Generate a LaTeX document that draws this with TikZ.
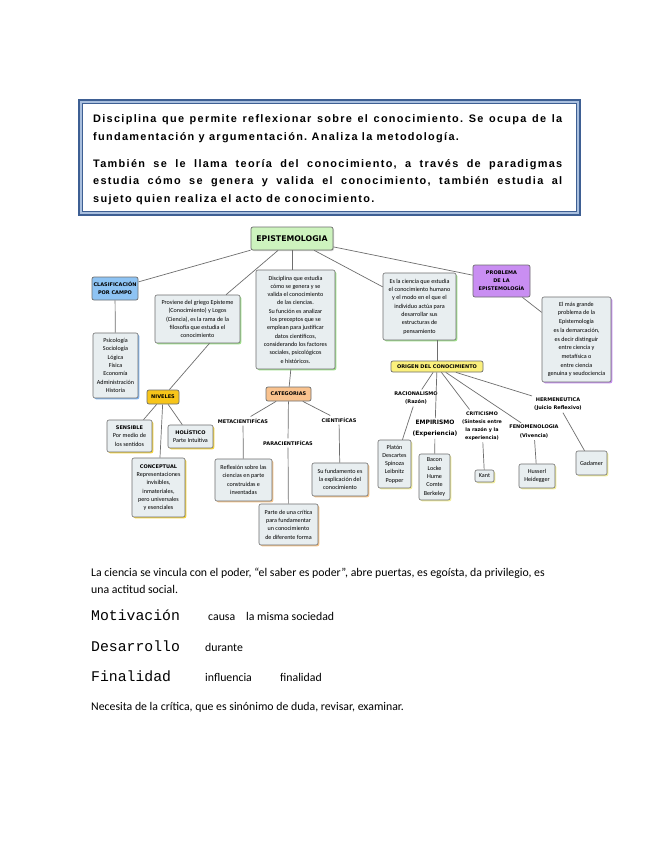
\documentclass[tikz,border=0pt]{standalone}
\usepackage{fontspec}
\setmainfont{Carlito}
\newfontfamily\tagfont{DejaVu Sans}
\newfontfamily\headfont{Liberation Sans}[LetterSpace=12]
\newfontfamily\typefont{Liberation Mono}
\usepackage{xcolor}
\usepackage{tikz}
\usetikzlibrary{shapes.geometric, arrows, positioning, shadows}

\definecolor{framedark}{HTML}{3E5F93}
\definecolor{framelight}{HTML}{A9BFDE}
\definecolor{boxfill}{HTML}{E8EEF0}
\definecolor{edge}{HTML}{6E6E6E}
\definecolor{greentop}{HTML}{CDF3BE}
\definecolor{greenshade}{HTML}{9EE08A}
\definecolor{bluetop}{HTML}{8EC3F3}
\definecolor{blueshade}{HTML}{7FB3EE}
\definecolor{purpletop}{HTML}{C98EF2}
\definecolor{purpleshade}{HTML}{C58CF0}
\definecolor{goldtop}{HTML}{F7C51A}
\definecolor{goldshade}{HTML}{F5D33A}
\definecolor{orangetop}{HTML}{F9C28E}
\definecolor{orangeshade}{HTML}{F6C48A}
\definecolor{lemontop}{HTML}{FBF07C}
\definecolor{lemonshade}{HTML}{F3EE9A}

\begin{document}
\begin{tikzpicture}[
        x=1pt, y=-1pt,
        topic/.style={rectangle, draw=edge, rounded corners=2pt, line width=0.7pt, font=\tagfont\bfseries\fontsize{5}{8}\selectfont, align=center, inner sep=1pt},
        infobox/.style={rectangle, draw=edge, fill=boxfill, rounded corners=2pt, line width=0.6pt, font=\fontsize{6.1}{8.3}\selectfont, align=center, inner sep=0.5pt},
        shade/.style={drop shadow={shadow xshift=1.3pt, shadow yshift=-1.3pt, opacity=1, fill=#1}},
        tag/.style={font=\tagfont\bfseries\fontsize{5}{8.4}\selectfont, align=center, inner sep=2pt},
        link/.style={draw=edge, line width=0.7pt},
        plain/.style={anchor=base west, inner sep=0pt, font=\fontsize{11.8}{17}\selectfont, align=left}
    ]
    \useasboundingbox[fill=white] (0,0) rectangle (655,848);

    % framed heading
    \draw[framedark, line width=2pt] (79,100) rectangle (580,215);
    \draw[framelight, line width=1.8pt] (81,102) rectangle (578,213);
    \draw[framedark, line width=0.9pt, fill=white] (82.8,103.8) rectangle (576.2,211.2);
    \node (intro) [anchor=north west, text width=469pt, align=justify, inner sep=0pt,
        font=\headfont\bfseries\fontsize{10.9}{17.8}\selectfont] at (93,114.5) {%
        \hyphenpenalty=10000 \frenchspacing
        Disciplina que permite reflexionar sobre el conocimiento. Se ocupa de la\linebreak
        fundamentación y argumentación. Analiza la metodología.\par\vspace{9pt}
        También se le llama teoría del conocimiento, a través de paradigmas\linebreak
        estudia cómo se genera y valida el conocimiento, también estudia al\linebreak
        sujeto quien realiza el acto de conocimiento.};

    % concept map
    \node (epist) [topic, fill=greentop, minimum width=82pt, minimum height=23pt,
        font=\tagfont\bfseries\fontsize{7.8}{9}\selectfont,
        drop shadow={shadow xshift=1pt, shadow yshift=-1pt, opacity=0.35, fill=black!50}] at (292,238.5) {EPISTEMOLOGIA};

    \node (clasif) [topic, fill=bluetop, minimum width=46pt, minimum height=23pt] at (115,288.5) {CLASIFICACIÓN\\POR CAMPO};
    \node (campos) [infobox, shade=blueshade, minimum width=45pt, minimum height=65pt] at (115.5,365.5)
        {Psicología\\Sociología\\Lógica\\Física\\Economía\\Administración\\Historia};

    \node (proviene) [infobox, shade=greenshade, minimum width=85pt, minimum height=48pt] at (197.5,319)
        {Proviene del griego Episteme\\(Conocimiento) y Logos\\(Ciencia), es la rama de la\\filosofía que estudia el\\conocimiento};
    \node (disciplina) [infobox, shade=greenshade, minimum width=79pt, minimum height=99pt] at (295.5,319.5)
        {Disciplina que estudia\\cómo se genera y se\\valida el conocimiento\\de las ciencias.\\Su función es analizar\\los preceptos que se\\emplean para justificar\\datos científicos,\\considerando los factores\\sociales, psicológicos\\e históricos.};
    \node (ciencia) [infobox, shade=greenshade, minimum width=73pt, minimum height=67pt] at (419.5,306.5)
        {Es la ciencia que estudia\\el conocimiento humano\\y el modo en el que el\\individuo actúa para\\desarrollar sus\\estructuras de\\pensamiento};

    \node (problema) [topic, fill=purpletop, minimum width=57pt, minimum height=32pt] at (501.5,281) {PROBLEMA\\DE LA\\EPISTEMOLOGÍA};
    \node (demarcacion) [infobox, shade=purpleshade, minimum width=69pt, minimum height=85pt,
        font=\fontsize{6.1}{8.7}\selectfont] at (576.5,339.5)
        {El más grande\\problema de la\\Epistemología\\es la demarcación,\\es decir distinguir\\entre ciencia y\\metafísica o\\entre ciencia\\genuina y seudociencia};

    \node (niveles) [topic, fill=goldtop, minimum width=32pt, minimum height=14pt] at (163,397) {NIVELES};
    \node (sensible) [infobox, shade=goldshade, minimum width=45pt, minimum height=32pt] at (129.5,436)
        {{\tagfont\bfseries\fontsize{5}{8.3}\selectfont SENSIBLE}\\Por medio de\\los sentidos};
    \node (holistico) [infobox, shade=goldshade, minimum width=45pt, minimum height=23pt] at (190.5,436.5)
        {{\tagfont\bfseries\fontsize{5}{8.3}\selectfont HOLÍSTICO}\\Parte Intuitiva};
    \node (conceptual) [infobox, shade=goldshade, minimum width=53pt, minimum height=59pt] at (158.5,487.5)
        {{\tagfont\bfseries\fontsize{5}{8.3}\selectfont CONCEPTUAL}\\Representaciones\\invisibles,\\inmateriales,\\pero universales\\y esenciales};

    \node (categorias) [topic, fill=orangetop, minimum width=45pt, minimum height=14pt] at (288.5,394) {CATEGORIAS};
    \node (meta) [tag] at (243,421) {METACIENTIFÍCAS};
    \node (para) [tag] at (288,443) {PARACIENTIFÍCAS};
    \node (cient) [tag] at (339,420) {CIENTIFÍCAS};
    \node (reflexion) [infobox, shade=orangeshade, minimum width=57pt, minimum height=42pt] at (243.5,480)
        {Reflexión sobre las\\ciencias en parte\\construidas e\\inventadas};
    \node (critica) [infobox, shade=orangeshade, minimum width=59pt, minimum height=41pt] at (288.5,524.5)
        {Parte de una crítica\\para fundamentar\\un conocimiento\\de diferente forma};
    \node (fundamento) [infobox, shade=orangeshade, minimum width=56pt, minimum height=33pt] at (340,479.5)
        {Su fundamento es\\la explicación del\\conocimiento};

    \node (origen) [topic, fill=lemontop, minimum width=92pt, minimum height=11pt] at (437,366.5) {ORIGEN DEL CONOCIMIENTO};
    \node (racional) [tag] at (416,398) {RACIONALISMO\\(Razón)};
    \node (empirismo) [tag, font=\tagfont\bfseries\fontsize{6}{10.5}\selectfont] at (435,428.5) {EMPIRISMO\\(Experiencia)};
    \node (criticismo) [tag, font=\tagfont\bfseries\fontsize{4.8}{8}\selectfont] at (482,426) {CRITICISMO\\(Síntesis entre\\la razón y la\\experiencia)};
    \node (fenomeno) [tag] at (534,431.5) {FENOMENOLOGIA\\(Vivencia)};
    \node (hermeneutica) [tag] at (558,404) {HERMENEUTICA\\(Juicio Reflexivo)};
    \node (platon) [infobox, shade=lemonshade, minimum width=33pt, minimum height=48pt] at (394.5,464)
        {Platón\\Descartes\\Spinoza\\Leibnitz\\Popper};
    \node (bacon) [infobox, shade=lemonshade, minimum width=31pt, minimum height=46pt] at (434.5,477)
        {Bacon\\Locke\\Hume\\Comte\\Berkeley};
    \node (kant) [infobox, shade=lemonshade, minimum width=19pt, minimum height=12pt] at (484.5,476) {Kant};
    \node (husserl) [infobox, shade=lemonshade, minimum width=36pt, minimum height=24pt] at (537,476) {Husserl\\Heidegger};
    \node (gadamer) [infobox, shade=lemonshade, minimum width=31pt, minimum height=24pt] at (591.5,463) {Gadamer};

    \draw [link] (epist) -- (clasif);
    \draw [link] (epist) -- (proviene);
    \draw [link] (epist.south) -- (epist.south |- disciplina.north);
    \draw [link] (epist) -- (ciencia);
    \draw [link] (epist) -- (problema);
    \draw [link] (problema) -- (demarcacion);

    \draw [link] (clasif) -- (campos);
    \draw [link] ([xshift=12pt]proviene.south) -- (niveles);
    \draw [link] (niveles) -- (sensible);
    \draw [link] (niveles) -- (conceptual);
    \draw [link] (niveles) -- (holistico);

    \draw [link] (disciplina) -- (categorias);
    \draw [link] (categorias) -- (meta);
    \draw [link] (categorias) -- (para);
    \draw [link] (categorias) -- (cient);
    \draw [link] (meta) -- (reflexion);
    \draw [link] (para) -- (critica);
    \draw [link] (cient) -- (fundamento);

    \draw [link] (ciencia.south -| origen.north) -- (origen);
    \draw [link] (origen) -- (racional);
    \draw [link] (origen) -- (empirismo);
    \draw [link] (origen) -- (criticismo);
    \draw [link] (origen) -- (fenomeno);
    \draw [link] (origen) -- (hermeneutica);
    \draw [link] (racional) -- (platon);
    \draw [link] (empirismo) -- (bacon);
    \draw [link] (criticismo) -- (kant);
    \draw [link] (fenomeno) -- (husserl);
    \draw [link] (hermeneutica) -- (gadamer);

    % notes below the map
    \node (saber) [plain] at (91,593) {La ciencia se vincula con el poder, “el saber es poder”, abre puertas, es egoísta, da privilegio, es\\una actitud social.};
    \node (motiv) [plain, font=\typefont\fontsize{14.8}{16}\selectfont] at (91,620) {Motivación};
    \node (causa) [plain] at (208,620) {causa};
    \node (sociedad) [plain] at (246,620) {la misma sociedad};
    \node (desarrollo) [plain, font=\typefont\fontsize{14.8}{16}\selectfont] at (91,651) {Desarrollo};
    \node (durante) [plain] at (205,651) {durante};
    \node (finalidad) [plain, font=\typefont\fontsize{14.8}{16}\selectfont] at (91,681) {Finalidad};
    \node (influencia) [plain] at (205,681) {influencia};
    \node (fin) [plain] at (280,681) {finalidad};
    \node (critica2) [plain] at (91,710) {Necesita de la crítica, que es sinónimo de duda, revisar, examinar.};
\end{tikzpicture}
\end{document}
